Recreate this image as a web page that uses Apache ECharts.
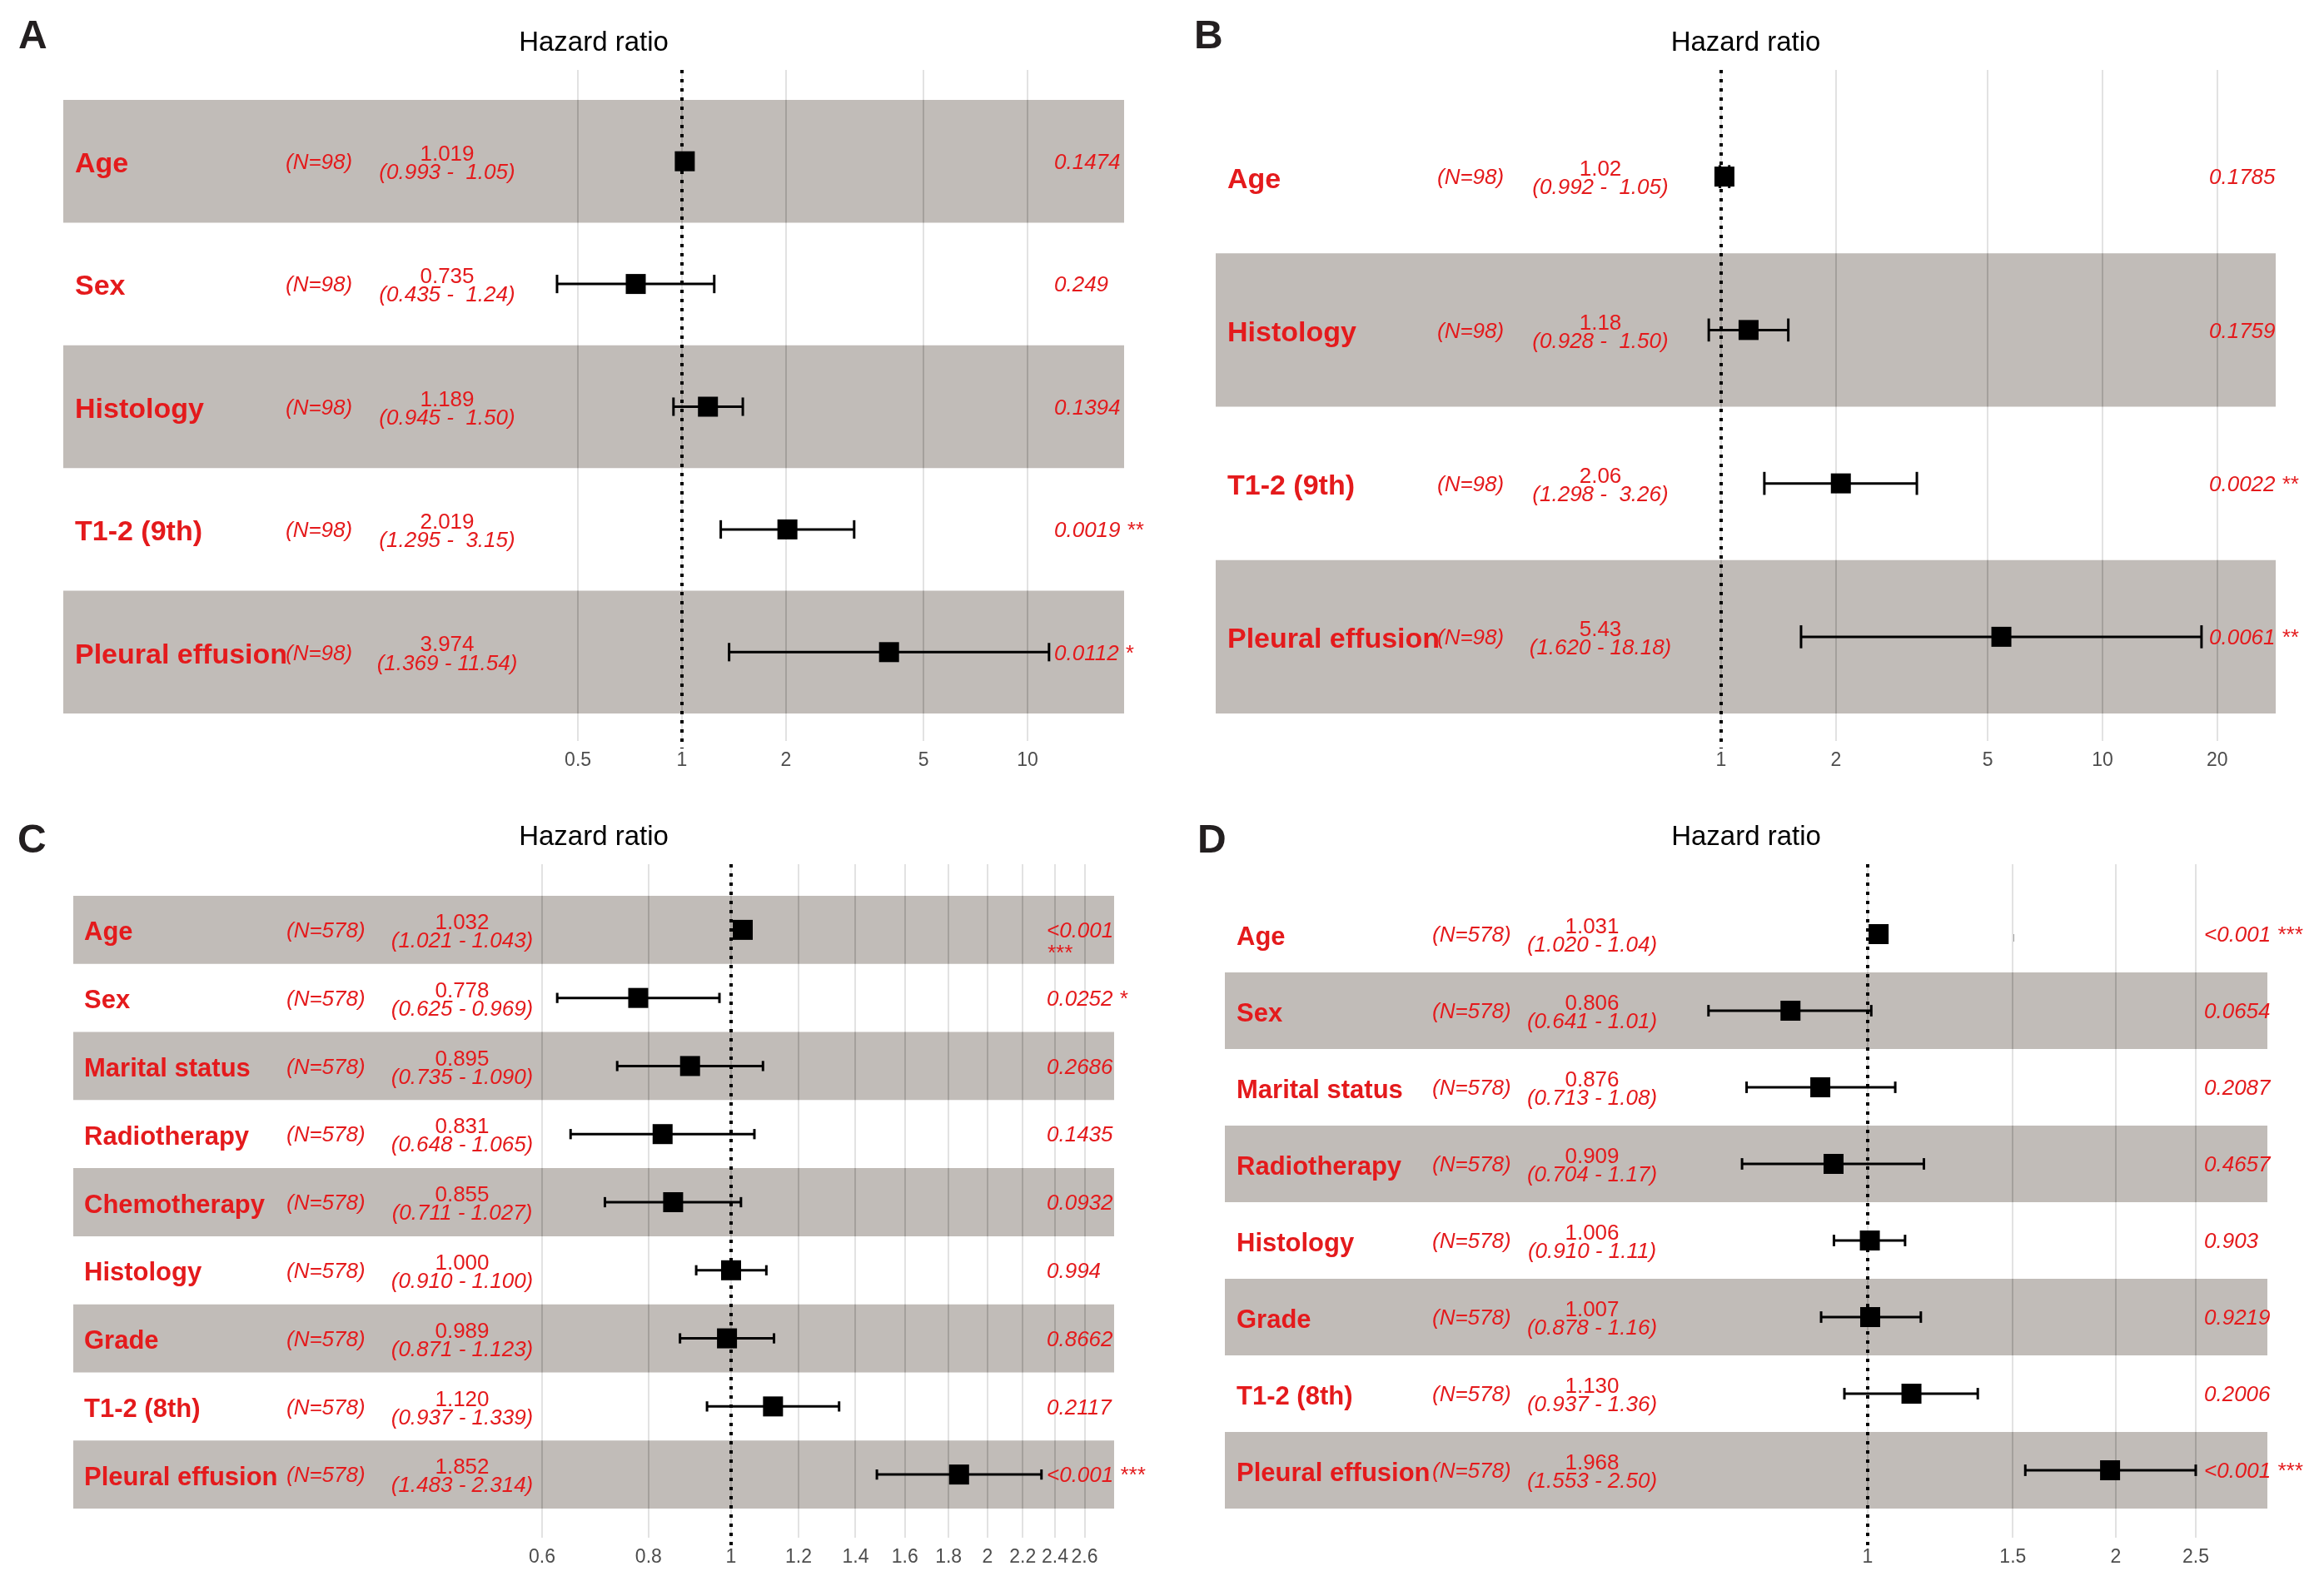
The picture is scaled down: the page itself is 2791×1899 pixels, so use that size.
<!DOCTYPE html>
<html><head><meta charset="utf-8">
<script src="https://cdn.jsdelivr.net/npm/echarts@6/dist/echarts.min.js"></script>
<style>html,body{margin:0;padding:0;background:#fff}#c{width:2791px;height:1899px}</style>
</head><body><div id="c"></div>
<script>
// ---------------- Panel A ----------------
const varsA = ['Age', 'Sex', 'Histology', 'T1-2 (9th)', 'Pleural effusion'];
const nA = [98, 98, 98, 98, 98];
const hrA = [1.019, 0.735, 1.189, 2.019, 3.974];
const loA = [0.993, 0.435, 0.945, 1.295, 1.369];
const hiA = [1.05, 1.24, 1.50, 3.15, 11.54];
const estA = ['1.019', '0.735', '1.189', '2.019', '3.974'];
const ciA = ['(0.993 -  1.05)', '(0.435 -  1.24)', '(0.945 -  1.50)', '(1.295 -  3.15)', '(1.369 - 11.54)'];
const pA = ['0.1474', '0.249', '0.1394', '0.0019 **', '0.0112 *'];
const ticksA = ['0.5', '1', '2', '5', '10'];

// ---------------- Panel B ----------------
const varsB = ['Age', 'Histology', 'T1-2 (9th)', 'Pleural effusion'];
const nB = [98, 98, 98, 98];
const hrB = [1.02, 1.18, 2.06, 5.43];
const loB = [0.992, 0.928, 1.298, 1.620];
const hiB = [1.05, 1.50, 3.26, 18.18];
const estB = ['1.02', '1.18', '2.06', '5.43'];
const ciB = ['(0.992 -  1.05)', '(0.928 -  1.50)', '(1.298 -  3.26)', '(1.620 - 18.18)'];
const pB = ['0.1785', '0.1759', '0.0022 **', '0.0061 **'];
const ticksB = ['1', '2', '5', '10', '20'];

// ---------------- Panel C ----------------
const varsC = ['Age', 'Sex', 'Marital status', 'Radiotherapy', 'Chemotherapy', 'Histology', 'Grade', 'T1-2 (8th)', 'Pleural effusion'];
const nC = [578, 578, 578, 578, 578, 578, 578, 578, 578];
const hrC = [1.032, 0.778, 0.895, 0.831, 0.855, 1.000, 0.989, 1.120, 1.852];
const loC = [1.021, 0.625, 0.735, 0.648, 0.711, 0.910, 0.871, 0.937, 1.483];
const hiC = [1.043, 0.969, 1.090, 1.065, 1.027, 1.100, 1.123, 1.339, 2.314];
const estC = ['1.032', '0.778', '0.895', '0.831', '0.855', '1.000', '0.989', '1.120', '1.852'];
const ciC = ['(1.021 - 1.043)', '(0.625 - 0.969)', '(0.735 - 1.090)', '(0.648 - 1.065)', '(0.711 - 1.027)', '(0.910 - 1.100)', '(0.871 - 1.123)', '(0.937 - 1.339)', '(1.483 - 2.314)'];
const pC = ['<0.001\n***', '0.0252 *', '0.2686', '0.1435', '0.0932', '0.994', '0.8662', '0.2117', '<0.001 ***'];
const ticksC = ['0.6', '0.8', '1', '1.2', '1.4', '1.6', '1.8', '2', '2.2', '2.4', '2.6'];

// ---------------- Panel D ----------------
const varsD = ['Age', 'Sex', 'Marital status', 'Radiotherapy', 'Histology', 'Grade', 'T1-2 (8th)', 'Pleural effusion'];
const nD = [578, 578, 578, 578, 578, 578, 578, 578];
const hrD = [1.031, 0.806, 0.876, 0.909, 1.006, 1.007, 1.130, 1.968];
const loD = [1.020, 0.641, 0.713, 0.704, 0.910, 0.878, 0.937, 1.553];
const hiD = [1.04, 1.01, 1.08, 1.17, 1.11, 1.16, 1.36, 2.50];
const estD = ['1.031', '0.806', '0.876', '0.909', '1.006', '1.007', '1.130', '1.968'];
const ciD = ['(1.020 - 1.04)', '(0.641 - 1.01)', '(0.713 - 1.08)', '(0.704 - 1.17)', '(0.910 - 1.11)', '(0.878 - 1.16)', '(0.937 - 1.36)', '(1.553 - 2.50)'];
const pD = ['<0.001 ***', '0.0654', '0.2087', '0.4657', '0.903', '0.9219', '0.2006', '<0.001 ***'];
const ticksD = ['1', '1.5', '2', '2.5'];

const panelLetters = ['A', 'B', 'C', 'D'];
const axisTitle = 'Hazard ratio';

// ---------------- layout (pixels) ----------------
const layouts = [
  {left: 76, right: 1350, top: 84, bottom: 890, bandTop: 120, bandBottom: 857, one: 819, decade: 415,
   nameX: 90, nX: 343, hrX: 537, pX: 1266, nameSize: 34, letterX: 40, letterY: 45, titleY: 52},
  {left: 1460, right: 2733, top: 84, bottom: 890, bandTop: 120, bandBottom: 857, one: 2067, decade: 458,
   nameX: 1474, nX: 1726, hrX: 1922, pX: 2653, nameSize: 34, letterX: 1452, letterY: 45, titleY: 52},
  {left: 88, right: 1338, top: 1038, bottom: 1847, bandTop: 1076, bandBottom: 1812, one: 878, decade: 1023,
   nameX: 101, nX: 344, hrX: 555, pX: 1257, nameSize: 31, letterX: 39, letterY: 1011, titleY: 1006},
  {left: 1471, right: 2723, top: 1038, bottom: 1847, bandTop: 1076, bandBottom: 1812, one: 2243, decade: 990,
   nameX: 1485, nX: 1720, hrX: 1912, pX: 2647, nameSize: 31, letterX: 1456, letterY: 1011, titleY: 1006}
];

const panels = [
  {vars: varsA, n: nA, hr: hrA, lo: loA, hi: hiA, est: estA, ci: ciA, p: pA, ticks: ticksA},
  {vars: varsB, n: nB, hr: hrB, lo: loB, hi: hiB, est: estB, ci: ciB, p: pB, ticks: ticksB},
  {vars: varsC, n: nC, hr: hrC, lo: loC, hi: hiC, est: estC, ci: ciC, p: pC, ticks: ticksC},
  {vars: varsD, n: nD, hr: hrD, lo: loD, hi: hiD, est: estD, ci: ciD, p: pD, ticks: ticksD}
];

const FONT = '"Liberation Sans", Arial, Helvetica, sans-serif';
const RED = '#E41A1C';
const BAND = '#C1BCB8';
const GRID_WHITE = '#E2E2E2';
const GRID_BAND = 'rgba(0,0,0,0.15)';
const SMALL = 26;

const grids = [], xAxes = [], yAxes = [], series = [], graphics = [];

panels.forEach((P, k) => {
  const L = layouts[k];
  const nr = P.vars.length;
  const rowH = (L.bandBottom - L.bandTop) / nr;
  grids.push({left: L.left, top: L.top, width: L.right - L.left, height: L.bottom - L.top, containLabel: false});
  const tickNums = P.ticks.map(Number);
  const tickLogs = tickNums.map(v => Math.log10(v));
  const fmt = v => {
    for (let j = 0; j < tickLogs.length; j++) if (Math.abs(tickLogs[j] - v) < 1e-6) return P.ticks[j];
    return '';
  };
  xAxes.push({
    type: 'value', gridIndex: k,
    min: (L.left - L.one) / L.decade, max: (L.right - L.one) / L.decade,
    axisLine: {show: false},
    axisTick: {show: true, inside: false, length: 9, customValues: tickLogs, lineStyle: {color: '#A0A0A0', width: 2}},
    axisLabel: {show: true, customValues: tickLogs, formatter: fmt, color: '#4D4D4D', fontSize: 23, fontFamily: FONT, margin: 12},
    splitLine: {show: false}
  });
  yAxes.push({
    type: 'value', gridIndex: k, inverse: true, show: false,
    min: -0.5 - (L.bandTop - L.top) / rowH,
    max: nr - 0.5 + (L.bottom - L.bandBottom) / rowH,
    splitLine: {show: false}
  });

  // vertical grid lines at the tick values (light, under the bands)
  series.push({
    type: 'custom', xAxisIndex: k, yAxisIndex: k, silent: true, z: 1, clip: false,
    data: tickLogs.map(v => [v]),
    renderItem: (params, api) => {
      const cs = params.coordSys;
      const x = Math.round(api.coord([api.value(0), 0])[0]);
      return {type: 'rect', shape: {x: x - 1, y: cs.y, width: 2, height: cs.height},
              style: {fill: GRID_WHITE}};
    }
  });

  // alternating bands (bottom row is shaded), grid lines show through darker
  const bandRows = [];
  for (let i = 0; i < nr; i++) if ((nr - 1 - i) % 2 === 0) bandRows.push([0, i]);
  series.push({
    type: 'custom', xAxisIndex: k, yAxisIndex: k, silent: true, z: 2,
    data: bandRows,
    renderItem: (params, api) => {
      const i = api.value(1);
      const cs = params.coordSys;
      const y1 = api.coord([0, i - 0.5])[1], y2 = api.coord([0, i + 0.5])[1];
      const top = Math.min(y1, y2), h = Math.abs(y2 - y1);
      const ch = [{type: 'rect', shape: {x: cs.x, y: top, width: cs.width, height: h}, style: {fill: BAND}}];
      tickLogs.forEach(t => {
        const x = Math.round(api.coord([t, i])[0]);
        ch.push({type: 'rect', shape: {x: x - 1, y: top, width: 2, height: h}, style: {fill: GRID_BAND}});
      });
      return {type: 'group', children: ch};
    }
  });

  // reference line at HR = 1
  series.push({
    type: 'custom', xAxisIndex: k, yAxisIndex: k, silent: true, z: 3, clip: false,
    data: [[0, 0]],
    renderItem: (params, api) => {
      const cs = params.coordSys;
      const x = api.coord([api.value(0), 0])[0];
      return {type: 'line', shape: {x1: x, y1: cs.y, x2: x, y2: cs.y + cs.height + 9},
              style: {stroke: '#000', lineWidth: 4, lineDash: [4, 7], lineCap: 'butt'}};
    }
  });

  // error bars and point estimates
  series.push({
    type: 'custom', xAxisIndex: k, yAxisIndex: k, silent: true, z: 5, clip: false,
    data: P.hr.map((h, i) => [Math.log10(P.lo[i]), Math.log10(h), Math.log10(P.hi[i]), i]),
    renderItem: (params, api) => {
      const r = api.value(3);
      const lo = api.coord([api.value(0), r]);
      const es = api.coord([api.value(1), r]);
      const hi = api.coord([api.value(2), r]);
      const cap = api.size([0, 0.15])[1] / 2;
      const ls = {stroke: '#000', lineWidth: 3};
      return {type: 'group', children: [
        {type: 'line', shape: {x1: lo[0], y1: lo[1], x2: hi[0], y2: hi[1]}, style: ls},
        {type: 'line', shape: {x1: lo[0], y1: lo[1] - cap, x2: lo[0], y2: lo[1] + cap}, style: ls},
        {type: 'line', shape: {x1: hi[0], y1: hi[1] - cap, x2: hi[0], y2: hi[1] + cap}, style: ls},
        {type: 'rect', shape: {x: es[0] - 12, y: es[1] - 12, width: 24, height: 24}, style: {fill: '#000'}}
      ]};
    }
  });

  // text columns
  series.push({
    type: 'custom', xAxisIndex: k, yAxisIndex: k, silent: true, z: 6, clip: false,
    data: P.vars.map((v, i) => [0, i]),
    renderItem: (params, api) => {
      const i = api.value(1);
      const yc = api.coord([0, i])[1];
      const sm = `${SMALL}px ${FONT}`;
      const it = `italic ${SMALL}px ${FONT}`;
      const ch = [
        {type: 'text', x: L.nameX, y: yc + 4, style: {text: P.vars[i], fill: RED, font: `bold ${L.nameSize}px ${FONT}`, textAlign: 'left', textVerticalAlign: 'middle'}},
        {type: 'text', x: L.nX, y: yc + 2, style: {text: '(N=' + P.n[i] + ')', fill: RED, font: it, textAlign: 'left', textVerticalAlign: 'middle'}},
        {type: 'text', x: L.hrX, y: yc - 8, style: {text: P.est[i], fill: RED, font: sm, textAlign: 'center', textVerticalAlign: 'middle'}},
        {type: 'text', x: L.hrX, y: yc + 14, style: {text: P.ci[i], fill: RED, font: it, textAlign: 'center', textVerticalAlign: 'middle'}}
      ];
      P.p[i].split('\n').forEach((line, j) => {
        ch.push({type: 'text', x: L.pX, y: yc + 2 + j * 27, style: {text: line, fill: RED, font: it, textAlign: 'left', textVerticalAlign: 'middle'}});
      });
      return {type: 'group', children: ch};
    }
  });

  graphics.push({type: 'text', left: L.letterX - 18, top: L.letterY - 24,
    style: {text: panelLetters[k], fill: '#231F20', font: `bold 48px ${FONT}`}});
  graphics.push({type: 'text', x: (L.left + L.right) / 2, y: L.titleY,
    style: {text: axisTitle, fill: '#000', font: `33px ${FONT}`, textAlign: 'center', textVerticalAlign: 'middle'}});
});

const chart = echarts.init(document.getElementById('c'), null, {renderer: 'canvas'});
chart.setOption({
  animation: false,
  backgroundColor: '#fff',
  grid: grids, xAxis: xAxes, yAxis: yAxes, series: series,
  graphic: {elements: graphics}
});
</script></body></html>
